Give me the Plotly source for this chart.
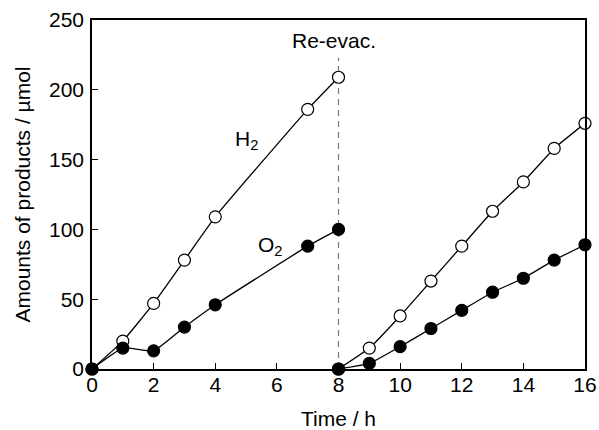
import plotly.graph_objects as go

t1 = [0, 1, 2, 3, 4, 7, 8]
h2_1 = [0, 20, 47, 78, 109, 186, 209]
o2_1 = [0, 15, 13, 30, 46, 88, 100]
t2 = [8, 9, 10, 11, 12, 13, 14, 15, 16]
h2_2 = [0, 15, 38, 63, 88, 113, 134, 158, 176]
o2_2 = [0, 4, 16, 29, 42, 55, 65, 78, 89]

FONT = "Liberation Sans, Arial, Helvetica, sans-serif"
fig = go.Figure()

# dashed re-evacuation line
fig.add_trace(go.Scatter(x=[8, 8], y=[0, 223], mode="lines",
                         line=dict(color="#777777", width=1.2, dash="6px,5px"),
                         showlegend=False, hoverinfo="skip"))

def add(x, y, filled):
    fig.add_trace(go.Scatter(
        x=x, y=y, mode="lines+markers",
        line=dict(color="black", width=1.3, shape="spline", smoothing=0.4),
        marker=dict(size=12, symbol="circle",
                    color="black" if filled else "white",
                    line=dict(color="black", width=1.2)),
        showlegend=False, cliponaxis=False))

add(t1, h2_1, False)
add(t1, o2_1, True)
add(t2, h2_2, False)
add(t2, o2_2, True)

fig.add_annotation(x=5.0, y=164, text="H<sub>2</sub>", showarrow=False,
                   font=dict(size=21, family=FONT, color="black"))
fig.add_annotation(x=5.8, y=88, text="O<sub>2</sub>", showarrow=False,
                   font=dict(size=21, family=FONT, color="black"))
fig.add_annotation(x=7.85, y=235, text="Re-evac.", showarrow=False,
                   font=dict(size=21, family=FONT, color="black"))

fig.update_layout(
    width=599, height=430,
    margin=dict(l=92, r=14, t=20, b=61, autoexpand=False),
    plot_bgcolor="white", paper_bgcolor="white",
    font=dict(family=FONT, size=21, color="black"),
    xaxis=dict(range=[0, 16], tickvals=[0, 2, 4, 6, 8, 10, 12, 14, 16],
               ticks="inside", ticklen=6, tickwidth=1.3, tickcolor="black",
               showline=True, linecolor="black", linewidth=1.5, mirror=True,
               showgrid=False, zeroline=False, automargin=False,
               ticklabelstandoff=-4,
               title=dict(text="Time / h", standoff=18, font=dict(size=21))),
    yaxis=dict(range=[0, 250], tickvals=[0, 50, 100, 150, 200, 250],
               ticks="inside", ticklen=6, tickwidth=1.3, tickcolor="black",
               showline=True, linecolor="black", linewidth=1.5, mirror=True,
               showgrid=False, zeroline=False, automargin=False,
               ticklabelstandoff=2,
               title=dict(text="Amounts of products / µmol", standoff=13, font=dict(size=21))),
)

fig.write_html("out.html", config={"displayModeBar": False},
               post_script="document.body.style.margin='0';document.body.style.overflow='hidden';")
